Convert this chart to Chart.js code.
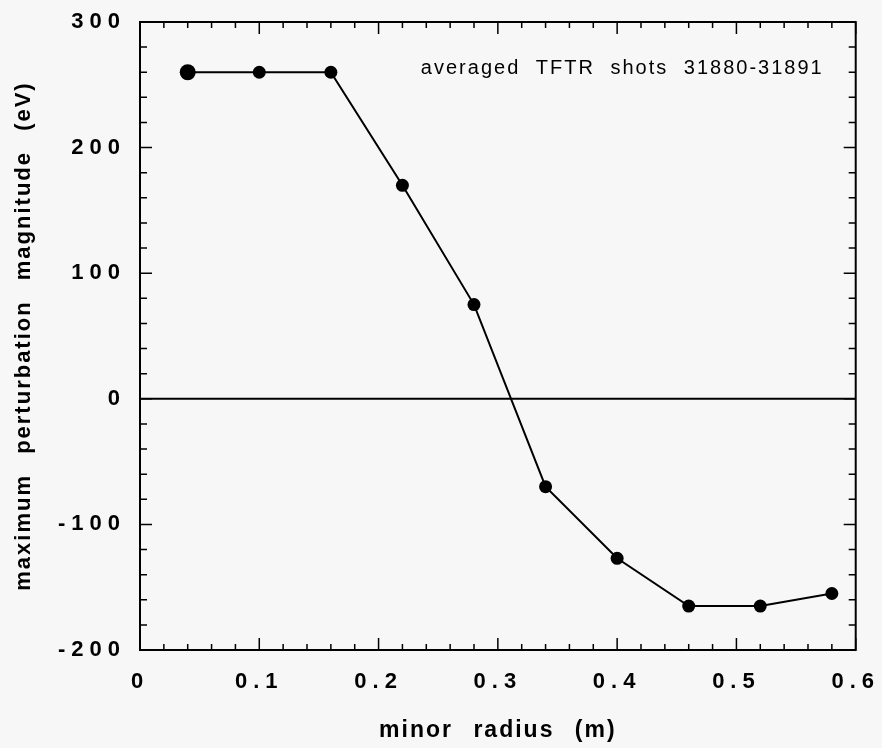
<!DOCTYPE html>
<html>
<head>
<meta charset="utf-8">
<script src="https://cdn.jsdelivr.net/npm/chart.js@4.4.0/dist/chart.umd.min.js"></script>
<style>
  html, body { margin: 0; padding: 0; background: #f7f7f7; }
  #wrap { width: 882px; height: 748px; }
</style>
</head>
<body>
<div id="wrap"><canvas id="profile" width="882" height="748"></canvas></div>
<script>
// perturbation amplitude vs minor radius
const radius = [0.04, 0.10, 0.16, 0.22, 0.28, 0.34, 0.40, 0.46, 0.52, 0.58];
const magnitude = [260, 260, 260, 170, 75, -70, -127, -165, -165, -155];
const xTicks = [0, 0.1, 0.2, 0.3, 0.4, 0.5, 0.6];
const yTicks = [-200, -100, 0, 100, 200, 300];
const note = "averaged TFTR shots 31880-31891";

const FAMILY = "'Liberation Sans', Arial, Helvetica, sans-serif";

// box, zero line and inward tick marks; also switches text spacing between layers
const frame = {
  id: 'frame',
  beforeDraw(chart) {
    // axis titles are drawn with the grid layer, before the datasets
    chart.ctx.letterSpacing = '2px';
    chart.ctx.wordSpacing = '12px';
  },
  beforeDatasetsDraw(chart) {
    const { ctx, chartArea: a, scales: { x, y } } = chart;
    ctx.save();
    ctx.strokeStyle = '#000';
    ctx.lineWidth = 2;
    ctx.strokeRect(a.left, a.top, a.right - a.left, a.bottom - a.top);

    const y0 = y.getPixelForValue(0);
    ctx.beginPath();
    ctx.moveTo(a.left, y0);
    ctx.lineTo(a.right, y0);
    ctx.stroke();

    ctx.lineWidth = 1.5;
    ctx.beginPath();
    for (let i = 0; i <= 30; i++) {
      const px = x.getPixelForValue(i * 0.02);
      const len = i % 5 === 0 ? 12 : 6;
      ctx.moveTo(px, a.bottom); ctx.lineTo(px, a.bottom - len);
      ctx.moveTo(px, a.top); ctx.lineTo(px, a.top + len);
    }
    for (let i = 0; i <= 25; i++) {
      const py = y.getPixelForValue(-200 + i * 20);
      const len = i % 5 === 0 ? 12 : 7;
      ctx.moveTo(a.left, py); ctx.lineTo(a.left + len, py);
      ctx.moveTo(a.right, py); ctx.lineTo(a.right - len, py);
    }
    ctx.stroke();
    ctx.restore();
  },
  afterDatasetsDraw(chart) {
    // tick labels come next (ticks.z = 1)
    chart.ctx.letterSpacing = '6px';
    chart.ctx.wordSpacing = '0px';
  },
  afterDraw(chart) {
    const { ctx, chartArea: a } = chart;
    ctx.save();
    ctx.letterSpacing = '2px';
    ctx.wordSpacing = '8px';
    ctx.font = "normal 20px " + FAMILY;
    ctx.fillStyle = '#000';
    ctx.textAlign = 'right';
    ctx.textBaseline = 'alphabetic';
    ctx.fillText(note, a.right - 32, a.top + 52);
    ctx.restore();
    ctx.letterSpacing = '0px';
    ctx.wordSpacing = '0px';
  }
};

const tickFont = { family: FAMILY, size: 22, weight: 'bold' };

new Chart(document.getElementById('profile'), {
  type: 'scatter',
  data: {
    datasets: [{
      data: radius.map((r, i) => ({ x: r, y: magnitude[i] })),
      showLine: true,
      borderColor: '#000',
      borderWidth: 2,
      tension: 0,
      pointBackgroundColor: '#000',
      pointBorderColor: '#000',
      pointBorderWidth: 0,
      pointRadius: radius.map((r, i) => i === 0 ? 8 : 6.5),
    }],
  },
  options: {
    responsive: false,
    animation: false,
    devicePixelRatio: 1,
    layout: { padding: { left: 0, top: 22, right: 26, bottom: 0 } },
    plugins: {
      legend: { display: false },
      tooltip: { enabled: false },
    },
    scales: {
      x: {
        type: 'linear',
        min: 0,
        max: 0.6,
        afterBuildTicks: s => { s.ticks = xTicks.map(value => ({ value })); },
        afterFit: s => { s.height = 98; },
        grid: { display: false },
        border: { display: false },
        ticks: {
          z: 1,
          color: '#000',
          font: tickFont,
          padding: 11,
          maxRotation: 0,
          autoSkip: false,
          callback: v => String(v),
        },
        title: {
          display: true,
          text: 'minor radius (m)',
          color: '#000',
          font: { family: FAMILY, size: 23, weight: 'bold' },
          padding: { top: 0, bottom: 4 },
        },
      },
      y: {
        type: 'linear',
        min: -200,
        max: 300,
        afterBuildTicks: s => { s.ticks = yTicks.map(value => ({ value })); },
        afterFit: s => { s.width = 140; },
        grid: { display: false },
        border: { display: false },
        ticks: {
          z: 1,
          color: '#000',
          font: tickFont,
          padding: 6,
          autoSkip: false,
          callback: v => String(v),
        },
        title: {
          display: true,
          text: 'maximum perturbation magnitude (eV)',
          color: '#000',
          font: { family: FAMILY, size: 22, weight: 'bold' },
          padding: { top: 11, bottom: 0 },
        },
      },
    },
  },
  plugins: [frame],
});
</script>
</body>
</html>
